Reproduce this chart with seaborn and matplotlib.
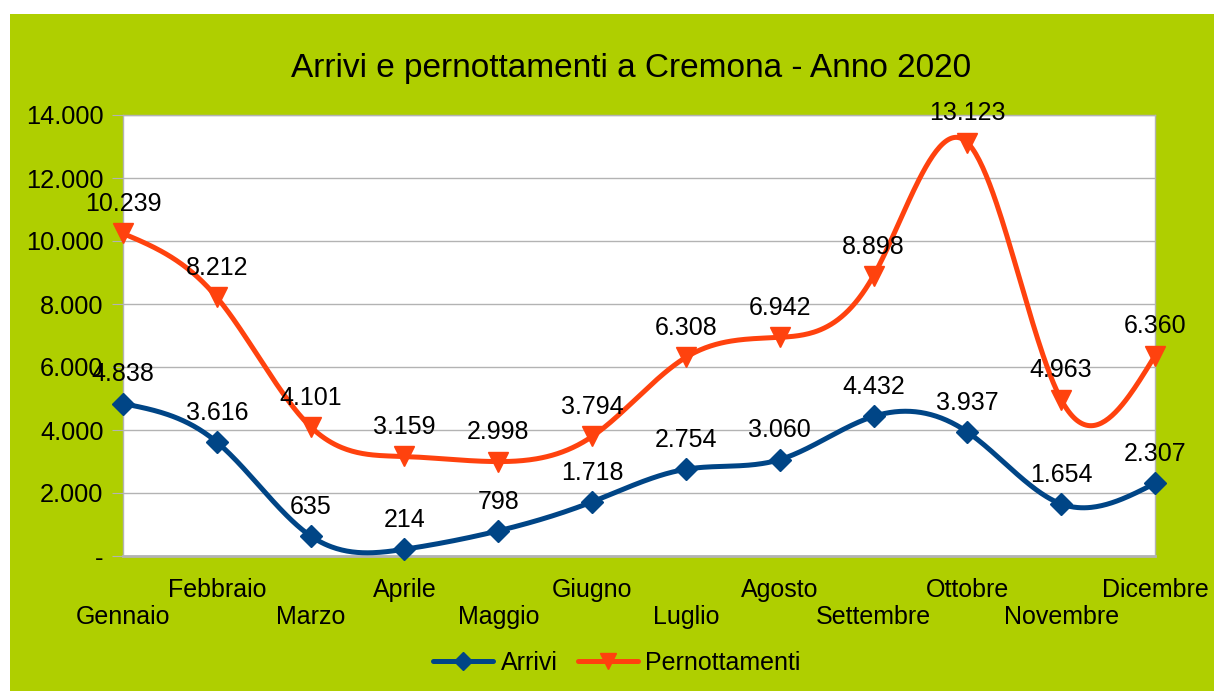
import numpy as np
import pandas as pd
import matplotlib
matplotlib.use("Agg")
import matplotlib.pyplot as plt
import seaborn as sns
from matplotlib.lines import Line2D
from matplotlib.patches import Rectangle

mesi = ["Gennaio", "Febbraio", "Marzo", "Aprile", "Maggio", "Giugno",
        "Luglio", "Agosto", "Settembre", "Ottobre", "Novembre", "Dicembre"]
arrivi = [4838, 3616, 635, 214, 798, 1718, 2754, 3060, 4432, 3937, 1654, 2307]
pernottamenti = [10239, 8212, 4101, 3159, 2998, 3794, 6308, 6942, 8898, 13123, 4963, 6360]
y_ticks = [0, 2000, 4000, 6000, 8000, 10000, 12000, 14000]

GREEN = "#afcf00"
BLUE = "#004586"
ORANGE = "#ff420e"
GRID = "#b3b3b3"


def fmt(v):
    if v == 0:
        return "-"
    return f"{v:,.0f}".replace(",", ".")


def smooth(x, y, n=600):
    # natural cubic spline, only used to draw the curved line
    x = np.asarray(x, float)
    y = np.asarray(y, float)
    k = len(x)
    h = np.diff(x)
    A = np.zeros((k, k))
    b = np.zeros(k)
    A[0, 0] = A[-1, -1] = 1
    for i in range(1, k - 1):
        A[i, i - 1] = h[i - 1]
        A[i, i] = 2 * (h[i - 1] + h[i])
        A[i, i + 1] = h[i]
        b[i] = 6 * ((y[i + 1] - y[i]) / h[i] - (y[i] - y[i - 1]) / h[i - 1])
    M = np.linalg.solve(A, b)
    xs = np.linspace(x[0], x[-1], n)
    idx = np.clip(np.searchsorted(x, xs) - 1, 0, k - 2)
    x0, x1 = x[idx], x[idx + 1]
    hh = x1 - x0
    t0 = x1 - xs
    t1 = xs - x0
    ys = (M[idx] * t0 ** 3 / (6 * hh) + M[idx + 1] * t1 ** 3 / (6 * hh)
          + (y[idx] / hh - M[idx] * hh / 6) * t0
          + (y[idx + 1] / hh - M[idx + 1] * hh / 6) * t1)
    return xs, ys


sns.set_style("white")
plt.rcParams["font.family"] = ["Liberation Sans", "DejaVu Sans"]
plt.rcParams["text.color"] = "black"
plt.rcParams["xtick.labelcolor"] = "black"
plt.rcParams["ytick.labelcolor"] = "black"

W, H = 1214, 691
fig = plt.figure(figsize=(W / 100, H / 100), dpi=100)
fig.patch.set_facecolor("white")
fig.patches.append(Rectangle((10 / W, 0), 1, (H - 14) / H, transform=fig.transFigure,
                             facecolor=GREEN, edgecolor="none", zorder=-10))

ax = fig.add_axes([123 / W, (H - 556) / H, (1155 - 123) / W, (556 - 115) / H])
ax.set_facecolor("white")

x = np.arange(len(mesi))
series = [("Arrivi", arrivi, BLUE, "D", 11),
          ("Pernottamenti", pernottamenti, ORANGE, "v", 14)]

for name, vals, col, mk, ms in series:
    xs, ys = smooth(x, vals)
    curve = pd.DataFrame({"x": xs, "y": ys})
    sns.lineplot(data=curve, x="x", y="y", ax=ax, color=col, linewidth=3.6,
                 clip_on=False, zorder=3)
    ax.plot(x, vals, linestyle="none", marker=mk, markersize=ms, color=col,
            clip_on=False, zorder=4)
    for xi, v in zip(x, vals):
        ax.annotate(fmt(v), (xi, v), xytext=(0, 21), textcoords="offset points",
                    ha="center", va="center", fontsize=18, color="black", zorder=5,
                    annotation_clip=False)

ax.set_xlim(0, len(mesi) - 1)
ax.set_ylim(0, 14000)
ax.set_yticks(y_ticks)
ax.set_yticklabels([fmt(v) for v in y_ticks], fontsize=18.3)
ax.yaxis.grid(True, color=GRID, linewidth=1)
ax.set_axisbelow(True)

ax.set_xticks(x[::2])
ax.set_xticklabels(mesi[::2], fontsize=18)
ax.set_xticks(x[1::2], minor=True)
ax.set_xticklabels(mesi[1::2], minor=True, fontsize=18)
ax.tick_params(axis="x", which="major", length=8, color=GRID, pad=27)
ax.tick_params(axis="x", which="minor", length=8, color=GRID, pad=8)
ax.tick_params(axis="y", length=8, color=GRID, pad=6, left=True)
ax.set_xlabel("")
ax.set_ylabel("")

for side, sp in ax.spines.items():
    sp.set_color(GRID)
    sp.set_linewidth(1)
ax.spines["bottom"].set_linewidth(2)

fig.text(631 / W, 1 - 68 / H, "Arrivi e pernottamenti a Cremona - Anno 2020",
         ha="center", va="center", fontsize=24)

handles = [Line2D([], [], color=c, marker=m, markersize=s * 0.85, linewidth=3.6)
           for _, _, c, m, s in series]
fig.legend(handles, [s[0] for s in series], loc="center",
           bbox_to_anchor=(617 / W, 1 - 663 / H), ncol=2, frameon=False,
           fontsize=18, handlelength=2.4, columnspacing=0.8, handletextpad=0.3)

fig.savefig("out.png", dpi=100)
